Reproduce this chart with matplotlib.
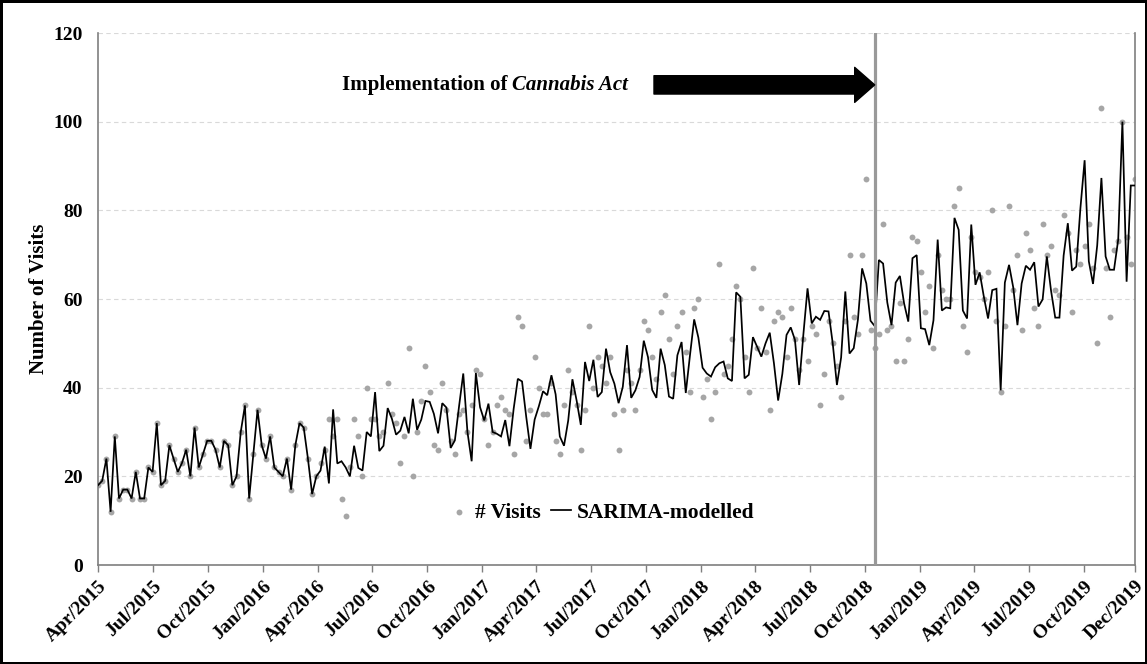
import numpy as np
import pandas as pd
import matplotlib
matplotlib.use("Agg")
import matplotlib.pyplot as plt

# ---------------- data (weekly, starting first week of April 2015) ----------------
start_date = "2015-04-01"
act_date = "2018-10-17"          # Cannabis Act implementation
arrow_start_date = "2017-10-14"  # tail of the annotation arrow
arrow_level = 108.3              # height (in visits units) of the annotation arrow

visits = [
    18, 19, 24, 12, 29, 15, 17, 17, 15, 21, 15, 15, 22, 21, 32, 18, 19, 27, 24, 21,
    23, 26, 20, 31, 22, 25, 28, 28, 26, 22, 28, 27, 18, 20, 30, 36, 15, 25, 35, 27,
    24, 29, 22, 21, 20, 24, 17, 27,
    32, 31, 24, 16, 20, 23, 26, 33, 29, 33, 15, 11, 22, 33, 29, 20, 40, 33, 33, 29,
    30, 41, 34, 32, 23, 29, 49, 20, 30, 37, 45, 39, 27, 26, 41, 35, 28, 25, 34, 35,
    30, 36, 44, 43, 33, 27, 30, 36, 38,
    35, 34, 25, 56, 54, 28, 35, 47, 40, 34, 34, 41, 28, 25, 36, 44, 39, 36, 26, 35,
    54, 40, 47, 45, 41, 47, 34, 26, 35, 44, 41, 35, 44, 55, 53, 47, 42, 57, 61, 51,
    43, 54, 57, 48, 39, 58, 60, 38, 42,
    33, 39, 68, 43, 45, 51, 63, 60, 47, 39, 67, 49, 58, 48, 35, 55, 57, 56, 47, 58,
    51, 44, 51, 46, 54, 52, 36, 43, 55, 50, 45, 38, 55, 70, 56, 52, 70, 87, 53, 49,
    52, 77, 53, 54, 46, 59, 46, 51, 74,
    73, 66, 57, 63, 49, 70, 62, 60, 60, 81, 85, 54, 48, 74, 66, 65, 60, 66, 80, 55,
    39, 54, 81, 62, 70, 53, 75, 71, 58, 54, 77, 70, 72, 62, 61, 79, 75, 57, 71, 68,
    72, 77, 67, 50, 103, 67, 56, 71, 73, 100, 74, 68, 87,
]

sarima = [
    18, 19, 24, 12, 29, 15, 17, 17, 15, 21, 15, 15, 22, 21, 32, 18, 19, 27, 24, 21,
    23, 26, 20, 31, 22, 25, 28, 28, 26, 22, 28, 27, 18, 20, 30, 36, 15, 25, 35, 27,
    24, 29, 22, 21, 20, 24, 17, 27,
    32, 31, 24, 16, 20, 21.3, 26.7, 18.4, 35.1, 22.9, 23.4, 22, 20, 26.9, 21.9, 21.3,
    30, 29, 39, 25.7, 26.9, 35.4, 33, 29.4, 30.3, 33.4, 29.7, 37.5, 30.5, 32.8, 37,
    36.8, 34.1, 29.7, 36.5, 35.5, 26.4, 28.1, 35.8, 43.2, 30, 23.4, 43.3, 35.6, 32.6,
    36.4, 30, 29.6, 29,
    32.7, 26.8, 35.2, 42, 41.4, 33.4, 26.2, 32.8, 35.8, 39.2, 38.3, 42.8, 38.5, 29,
    26.9, 32.6, 41.9, 37.1, 31.6, 45.8, 41.5, 46.3, 37.9, 39, 48.8, 43.5, 40.9, 36.5,
    40.2, 49.6, 37.7, 39.4, 42.4, 50.6, 46.9, 39.5, 37.7, 48.8, 45.1, 38, 37.5, 47.3,
    50.3, 38.8, 47.3, 55.4, 51.3, 44.5, 43.2,
    42.5, 44.6, 45.5, 45.9, 42.1, 41.5, 61.5, 60.5, 42.1, 42.9, 51.4, 49.2, 47, 50,
    52.4, 45.5, 37.1, 43.1, 51.9, 53.6, 50.8, 40.6, 51.9, 62.4, 54.5, 56, 55.3, 57.3,
    57.2, 50, 40.6, 46.8, 61.7, 47.7, 48.9, 55.3, 66.9, 63.5, 55.1, 53.9, 68.8, 68,
    59.2, 54.1, 63.7, 65.2, 59, 54.9, 69.2,
    69.9, 53.4, 53.2, 49.6, 55.2, 73.4, 57.4, 58.1, 57.9, 78.3, 75.6, 57.4, 55.6, 76.8,
    63.2, 66, 60.5, 55.6, 62, 62.3, 39.4, 63.7, 67.7, 62.6, 54.1, 63.5, 67.5, 66.6,
    68.3, 58.3, 59.9, 69.6, 61.9, 55.8, 55.8, 69.8, 77.1, 66.4, 67.3, 80.5, 91.3, 68.5,
    63.4, 72.1, 87.3, 69.6, 66.6, 66.6, 73.4, 100, 63.9, 85.6, 85.6,
]

tick_dates = [
    "2015-04-01", "2015-07-01", "2015-10-01", "2016-01-01", "2016-04-01", "2016-07-01",
    "2016-10-01", "2017-01-01", "2017-04-01", "2017-07-01", "2017-10-01", "2018-01-01",
    "2018-04-01", "2018-07-01", "2018-10-01", "2019-01-01", "2019-04-01", "2019-07-01",
    "2019-10-01", "2019-12-25",
]
tick_labels = [
    "Apr/2015", "Jul/2015", "Oct/2015", "Jan/2016", "Apr/2016", "Jul/2016",
    "Oct/2016", "Jan/2017", "Apr/2017", "Jul/2017", "Oct/2017", "Jan/2018",
    "Apr/2018", "Jul/2018", "Oct/2018", "Jan/2019", "Apr/2019", "Jul/2019",
    "Oct/2019", "Dec/2019",
]
y_ticks = [0, 20, 40, 60, 80, 100, 120]

# ---------------- figure ----------------
plt.rcParams["font.family"] = ["Liberation Serif", "DejaVu Serif"]
plt.rcParams["font.weight"] = "bold"

W, H = 1147, 664
fig = plt.figure(figsize=(W / 100, H / 100), dpi=100)
fig.patch.set_facecolor("white")
fig.patch.set_edgecolor("black")
fig.patch.set_linewidth(2.5)

ax = fig.add_axes([98 / W, 1 - 565 / H, (1135 - 98) / W, (565 - 33) / H])

dates = pd.date_range(start_date, periods=len(visits), freq="7D")

ax.scatter(dates, visits, s=18, color="#a6a6a6", linewidths=0, zorder=2, label="# Visits")
ax.plot(dates, sarima, color="black", lw=1.25, zorder=3, label="SARIMA-modelled",
        solid_joinstyle="miter")
ax.axvline(pd.Timestamp(act_date), color="#999999", lw=2.3, zorder=4)

ax.set_xlim(dates[0], dates[-1])
ax.set_ylim(0, 120)
ax.set_yticks(y_ticks)
ax.set_yticklabels([str(v) for v in y_ticks], fontsize=14, fontweight="bold")
ax.set_xticks(pd.to_datetime(tick_dates))
ax.set_xticklabels(tick_labels, fontsize=14, fontweight="bold", rotation=45,
                   ha="right", va="top", rotation_mode="anchor")
ax.tick_params(axis="y", length=0, pad=11)
ax.tick_params(axis="x", direction="out", length=5, width=1, color="#7f7f7f", pad=4)

ax.yaxis.grid(True, linestyle=(0, (4, 3)), color="#d9d9d9", lw=0.8)
ax.set_axisbelow(True)

for side in ["left", "bottom", "right"]:
    ax.spines[side].set_color("#7f7f7f")
    ax.spines[side].set_linewidth(1.2)
ax.spines["top"].set_visible(False)

ax.set_ylabel("Number of Visits", fontsize=15, fontweight="bold", labelpad=3)

# annotation arrow and text
ax.annotate("", xy=(pd.Timestamp(act_date), arrow_level),
            xytext=(pd.Timestamp(arrow_start_date), arrow_level),
            arrowprops=dict(arrowstyle="simple,head_length=0.6,head_width=1.05,tail_width=0.55",
                            fc="black", ec="black", mutation_scale=24, shrinkA=0, shrinkB=0),
            zorder=5)
t1 = ax.text(0.235, 0.893, "Implementation of ", transform=ax.transAxes, fontsize=15,
             fontweight="bold", ha="left", va="baseline")
ax.annotate("Cannabis Act", xy=(1, 0), xycoords=t1, fontsize=15, fontweight="bold",
            style="italic", ha="left", va="bottom")

leg = ax.legend(loc="center", bbox_to_anchor=(0.486, 0.098), ncol=2, frameon=False,
                fontsize=15.5, handlelength=0.9, handletextpad=0.3, columnspacing=0.5,
                scatterpoints=1)

fig.savefig("out.png", dpi=100, facecolor="white", edgecolor="black")
